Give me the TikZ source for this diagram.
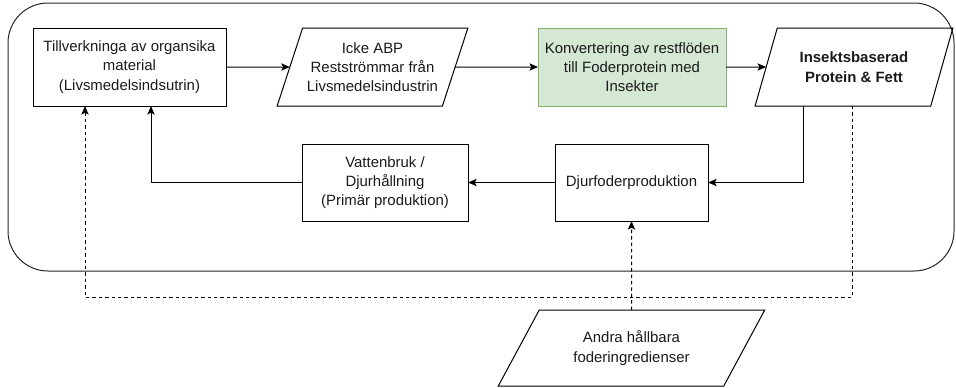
\documentclass[tikz,border=0pt]{standalone}
\usepackage{fontspec}
\setmainfont{Liberation Sans}
\usetikzlibrary{shapes.geometric,arrows.meta}
\definecolor{txt}{HTML}{1A1A1A}
\definecolor{gfill}{HTML}{D5E8D4}
\definecolor{gline}{HTML}{82B366}
\begin{document}
\begin{tikzpicture}[x=0.75pt,y=-0.75pt,
  font=\fontsize{11.2}{14.5}\selectfont, text=txt,
  every node/.style={align=center, inner sep=1pt, outer sep=0pt, line width=0.75pt},
  procbox/.style={draw=black, rectangle, minimum height=58.5pt},
  iobox/.style={draw=black, trapezium, trapezium stretches=true, trapezium left angle=#1, trapezium right angle={180-#1}, minimum height=58.5pt},
  flow/.style={line width=0.75pt, -{Stealth[length=6.5pt,width=5.5pt,inset=1.5pt]}},
  dflow/.style={flow, dash pattern=on 2.6pt off 2.2pt}
]
\useasboundingbox (0,0) rectangle (956,387);
\node[draw=black!85, line width=0.75pt, rectangle, rounded corners=30pt, minimum width=709.5pt, minimum height=201pt] (outer) at (481,137) {};

\node[procbox, minimum width=144.75pt] (b1) at (129.5,67) {Tillverkninga av organsika\\material\\(Livsmedelsindsutrin)};
\node[iobox=65, minimum width=143.25pt] (p2) at (372.5,67) {Icke ABP\\Restströmmar från\\Livsmedelsindustrin};
\node[procbox, fill=gfill, draw=gline, minimum width=141pt] (g3) at (632,67) {Konvertering av restflöden\\till Foderprotein med\\Insekter};
\node[iobox=64, minimum width=148.5pt, font=\fontsize{11.2}{14.5}\selectfont\bfseries] (p4) at (854,67) {Insektsbaserad\\Protein \& Fett};
\node[procbox, minimum width=114.75pt, minimum height=57.75pt] (d5) at (631.5,182.5) {Djurfoderproduktion};
\node[procbox, minimum width=124.5pt, minimum height=57.75pt] (v6) at (385,182.5) {Vattenbruk /\\Djurhållning\\(Primär produktion)};
\node[iobox=54.6, minimum width=200.25pt, minimum height=57pt] (a7) at (631.5,348) {Andra hållbara\\foderingredienser};

\draw[flow] (b1.east) -- (p2.west);
\draw[flow] (p2.east) -- (g3.west);
\draw[flow] (g3.east) -- (p4.west);
\draw[flow] (p4.south -| 803,0) |- (d5.east);
\draw[flow] (d5.west) -- (v6.west -| v6.east);
\draw[flow] (v6.west) -| (b1.south -| 151,0);
\coordinate (c1) at (852,297);
\coordinate (c2) at (85,297);
\draw[dflow] (p4.south -| c1) -- (c1) -- (c2) -- (b1.south -| c2);
\draw[dflow] (a7.north) -- (d5.south);
\end{tikzpicture}
\end{document}
